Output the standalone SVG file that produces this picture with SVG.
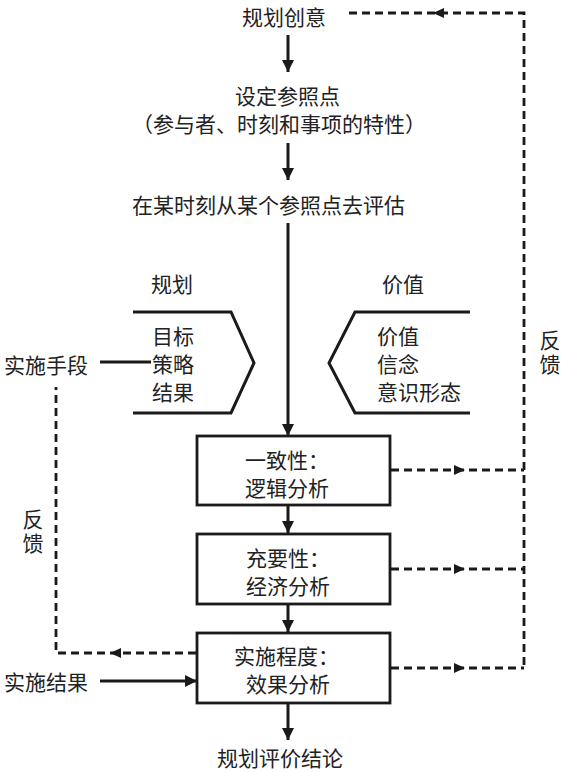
<svg xmlns="http://www.w3.org/2000/svg" width="565" height="772" viewBox="0 0 565 772">
<style>
text{font-family:"Noto Sans CJK SC","Noto Sans",sans-serif;font-size:21px;fill:#222;dominant-baseline:central}
.vert{writing-mode:vertical-rl;letter-spacing:3px;dominant-baseline:auto}
.solid{stroke:#1a1a1a;stroke-width:3;fill:none}
.dash{stroke:#1a1a1a;stroke-width:2.8;fill:none;stroke-dasharray:8 5}
.box{stroke:#1a1a1a;stroke-width:2.8;fill:#fff}
.head{fill:#1a1a1a}
</style>
<defs>
<marker id="arr" viewBox="0 0 10 10" refX="10" refY="5" markerWidth="4" markerHeight="4" orient="auto" markerUnits="strokeWidth">
<path d="M0,0 L10,5 L0,10 z" fill="#1a1a1a"/>
</marker>
</defs>
<rect width="565" height="772" fill="#fff"/>

<g id="connectors">
<line class="solid" x1="288" y1="35" x2="288" y2="72" marker-end="url(#arr)"/>
<line class="solid" x1="288" y1="143" x2="288" y2="180" marker-end="url(#arr)"/>
<line class="solid" x1="288" y1="223" x2="288" y2="436" marker-end="url(#arr)"/>
<line class="solid" x1="288" y1="506" x2="288" y2="533" marker-end="url(#arr)"/>
<line class="solid" x1="288" y1="605" x2="288" y2="632" marker-end="url(#arr)"/>
<line class="solid" x1="288" y1="704" x2="288" y2="740" marker-end="url(#arr)"/>
<line class="solid" x1="100" y1="362" x2="151" y2="362"/>
<line class="solid" x1="100" y1="681" x2="197" y2="681" marker-end="url(#arr)"/>
<path class="dash" d="M349 13 H524 V668"/>
<path class="dash" d="M391 470 H524"/>
<path class="dash" d="M391 569 H524"/>
<path class="dash" d="M391 668 H524"/>
<path class="dash" d="M196 653 H56 V387"/>
<path class="head" d="M433 13 l11 -5 v10 z"/>
<path class="head" d="M465 470 l-11 -5 v10 z"/>
<path class="head" d="M465 569 l-11 -5 v10 z"/>
<path class="head" d="M465 668 l-11 -5 v10 z"/>
<path class="head" d="M110 653 l11 -5 v10 z"/>
</g>

<g id="top">
<text x="242" y="16">规划创意</text>
</g>
<g id="ref">
<text x="235" y="95">设定参照点</text>
<text x="279" y="123" text-anchor="middle">（参与者、时刻和事项的特性）</text>
</g>
<g id="eval">
<text x="132" y="204">在某时刻从某个参照点去评估</text>
</g>
<g id="plan">
<text x="151" y="283">规划</text>
<path class="solid" d="M133 312 H231 L254 363 L231 413 H133"/>
<text x="152" y="335">目标</text>
<text x="152" y="363">策略</text>
<text x="152" y="391">结果</text>
</g>
<g id="value">
<text x="382" y="283">价值</text>
<path class="solid" d="M470 312 H355 L329 363 L355 413 H470"/>
<text x="377" y="335">价值</text>
<text x="377" y="363">信念</text>
<text x="377" y="391">意识形态</text>
</g>
<g id="means">
<text x="4" y="364">实施手段</text>
</g>
<g id="results">
<text x="4" y="681">实施结果</text>
</g>
<g id="fb-left">
<text class="vert" x="33" y="509">反馈</text>
</g>
<g id="fb-right">
<text class="vert" x="550" y="330">反馈</text>
</g>
<g id="box1">
<rect class="box" x="197" y="436" width="193" height="69"/>
<text x="245" y="459">一致性：</text>
<text x="245" y="487">逻辑分析</text>
</g>
<g id="box2">
<rect class="box" x="197" y="534" width="193" height="70"/>
<text x="246" y="557">充要性：</text>
<text x="246" y="585">经济分析</text>
</g>
<g id="box3">
<rect class="box" x="197" y="633" width="193" height="70"/>
<text x="234" y="655">实施程度：</text>
<text x="246" y="683">效果分析</text>
</g>
<g id="conclusion">
<text x="217" y="757">规划评价结论</text>
</g>
</svg>
